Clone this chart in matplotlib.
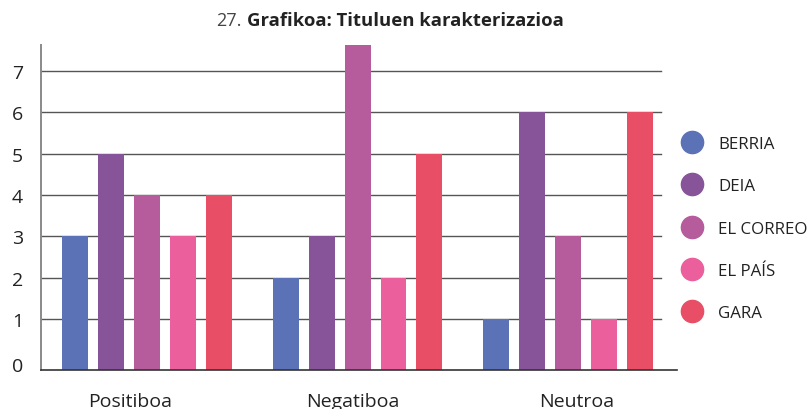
import matplotlib.pyplot as plt
from matplotlib.lines import Line2D

plt.rcParams['font.family'] = ['Open Sans', 'DejaVu Sans']

# data
categories = ['Positiboa', 'Negatiboa', 'Neutroa']
papers = ['BERRIA', 'DEIA', 'EL CORREO', 'EL PAÍS', 'GARA']
values = {
    'BERRIA': [3, 2, 1],
    'DEIA': [5, 3, 6],
    'EL CORREO': [4, 8, 3],
    'EL PAÍS': [3, 2, 1],
    'GARA': [4, 5, 6],
}
colors = ['#5b72b6', '#875399', '#b65b9b', '#eb5f9c', '#e84f66']
yticks = [1, 2, 3, 4, 5, 6, 7]

fig = plt.figure(figsize=(8.08, 4.10), dpi=100)
ax = fig.add_axes([41 / 808, 1 - 371 / 410, 636 / 808, 325 / 410])

ymin, ymax = -0.235, 7.63
step = 0.171
width = 0.1235

# gridlines behind the bars
for y in yticks:
    ax.axhline(y, xmin=0, xmax=0.975, color='#555555', lw=1, zorder=0)

for i, p in enumerate(papers):
    xs = [g + (i - 2) * step for g in range(len(categories))]
    hs = [v - ymin for v in values[p]]
    ax.bar(xs, hs, width=width, bottom=ymin, color=colors[i], zorder=2)

ax.set_xlim(-0.5036, 2.5178)
ax.set_ylim(ymin, ymax)

# y labels ("0" sits on the baseline)
ax.set_yticks([-0.1] + yticks)
ax.set_yticklabels(['0'] + [str(t) for t in yticks])
ax.tick_params(axis='y', length=0, pad=13, labelsize=14, labelcolor='#222222')

ax.set_xticks([-0.08, 0.98, 2.04])
ax.set_xticklabels(categories)
ax.tick_params(axis='x', length=0, pad=16, labelsize=14, labelcolor='#222222')

for s in ['top', 'right']:
    ax.spines[s].set_visible(False)
ax.spines['left'].set_color('#8a8a8a')
ax.spines['left'].set_linewidth(1.4)
ax.spines['bottom'].set_color('#333333')
ax.spines['bottom'].set_linewidth(1.2)

# title
fig.text(247 / 808, 1 - 21 / 410, 'Grafikoa: Tituluen karakterizazioa',
         fontsize=13.3, fontweight='bold', color='#222222', ha='left', va='center')
fig.text(242 / 808, 1 - 21 / 410, '27.', fontsize=13, color='#444444',
         ha='right', va='center')

# legend
handles = [Line2D([], [], marker='o', linestyle='none', markersize=16,
                  markerfacecolor=c, markeredgecolor=c) for c in colors]
fig.legend(handles, papers, loc='upper left', bbox_to_anchor=(680 / 808, 1 - 137 / 410),
           frameon=False, fontsize=12.2, labelspacing=1.55, handlelength=1.4,
           handletextpad=0.85, borderpad=0, borderaxespad=0, labelcolor='#222222')

fig.savefig('out.png', dpi=100)
